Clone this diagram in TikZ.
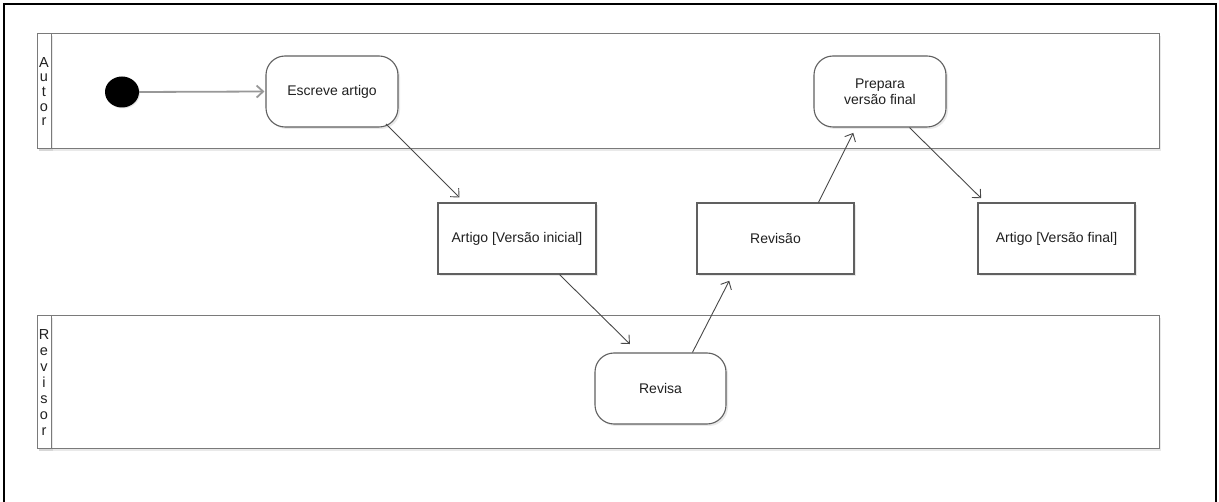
\documentclass[tikz,border=0pt]{standalone}
\usepackage{fontspec}
\setmainfont{Liberation Sans}
\usetikzlibrary{arrows.meta,shadows,calc,shapes.geometric}
\definecolor{boxline}{HTML}{606060}
\definecolor{laneline}{HTML}{7A7A7A}
\definecolor{wire}{HTML}{484848}
\definecolor{startwire}{HTML}{989898}
\definecolor{ink}{HTML}{202020}
\begin{document}
\begin{tikzpicture}[x=1pt,y=-1pt,
  softshadow/.style={drop shadow={shadow xshift=2pt,shadow yshift=-2pt,opacity=0.14,fill=black!60}},
  lane/.style={draw=laneline,line width=1pt,fill=white,softshadow,inner sep=0pt,
    minimum width=1122pt,minimum height=#1},
  strip/.style={draw=laneline,line width=1pt,fill=white,softshadow,inner sep=0pt,
    minimum width=14pt,minimum height=#1},
  lanelabel/.style={text=ink,font=\fontsize{14.5pt}{#1}\selectfont,align=center,inner sep=0pt},
  action/.style={draw=boxline,line width=1.1pt,fill=white,rounded corners=19pt,softshadow,
    minimum width=132pt,minimum height=71pt,inner sep=0pt,text=ink,align=center,
    font=\fontsize{14pt}{16pt}\selectfont},
  object/.style={draw=boxline,line width=1.1pt,fill=white,softshadow,
    minimum width=157pt,minimum height=71pt,inner sep=0pt,text=ink,
    font=\fontsize{14pt}{16pt}\selectfont},
  initial/.style={ellipse,fill=black,minimum width=34pt,minimum height=31pt,inner sep=0pt,
    drop shadow={shadow xshift=1pt,shadow yshift=-1pt,opacity=0.2}},
  flow/.style={draw=wire,line width=0.9pt,-{Straight Barb[length=6.5pt,width=12pt]}},
  startflow/.style={draw=startwire,line width=1.8pt,-{Straight Barb[length=6.5pt,width=12pt]}}
]
\useasboundingbox (0,0) rectangle (1219,502);

% page frame
\draw[line width=1.8pt,black] (4,510) -- (4,4) -- (1216,4) -- (1216,510);

% swimlanes
\node[lane=115pt] (autorlane) at (598,91.5) {};
\node[strip=115pt,anchor=west] (autorstrip) at (autorlane.west) {};
\node[lanelabel=14.7pt] (autorname) at (autorstrip.center) {A\\u\\t\\o\\r};

\node[lane=133pt] (revlane) at (598,382.5) {};
\node[strip=133pt,anchor=west] (revstrip) at (revlane.west) {};
\node[lanelabel=16.1pt] (revname) at (revstrip.center) {R\\e\\v\\i\\s\\o\\r};

% activities and objects
\node[initial] (init) at (122,92) {};
\node[action] (esc) at (332,91.5) {Escreve artigo};
\node[action] (prep) at (880,91.5) {Prepara\\versão final};
\node[action,minimum width=131pt] (revisa) at (660.5,388.5) {Revisa};
\node[object,minimum width=158pt] (art1) at (517,238.5) {Artigo [Versão inicial]};
\node[object] (revisao) at (775.5,238.5) {Revisão};
\node[object] (art2) at (1056.5,238.5) {Artigo [Versão final]};

% flows
\draw[startflow,shorten >=1pt] (init.east) -- (esc.west);
\draw[flow,shorten >=7pt] ($(esc.center)+(54,32.5)$) -- ($(art1.north west)+(27,0)$);
\draw[flow,shorten >=12pt] ($(art1.south west)+(122,0)$) -- ($(revisa.north west)+(44,0)$);
\draw[flow,shorten >=7pt] ($(revisa.north west)+(98,0)$) -- ($(revisao.south west)+(36,0)$);
\draw[flow,shorten >=6pt] ($(revisao.north west)+(122,0)$) -- ($(prep.south west)+(42.5,0)$);
\draw[flow,shorten >=6pt] ($(prep.south west)+(96,0)$) -- ($(art2.north west)+(8,0)$);
\end{tikzpicture}
\end{document}
